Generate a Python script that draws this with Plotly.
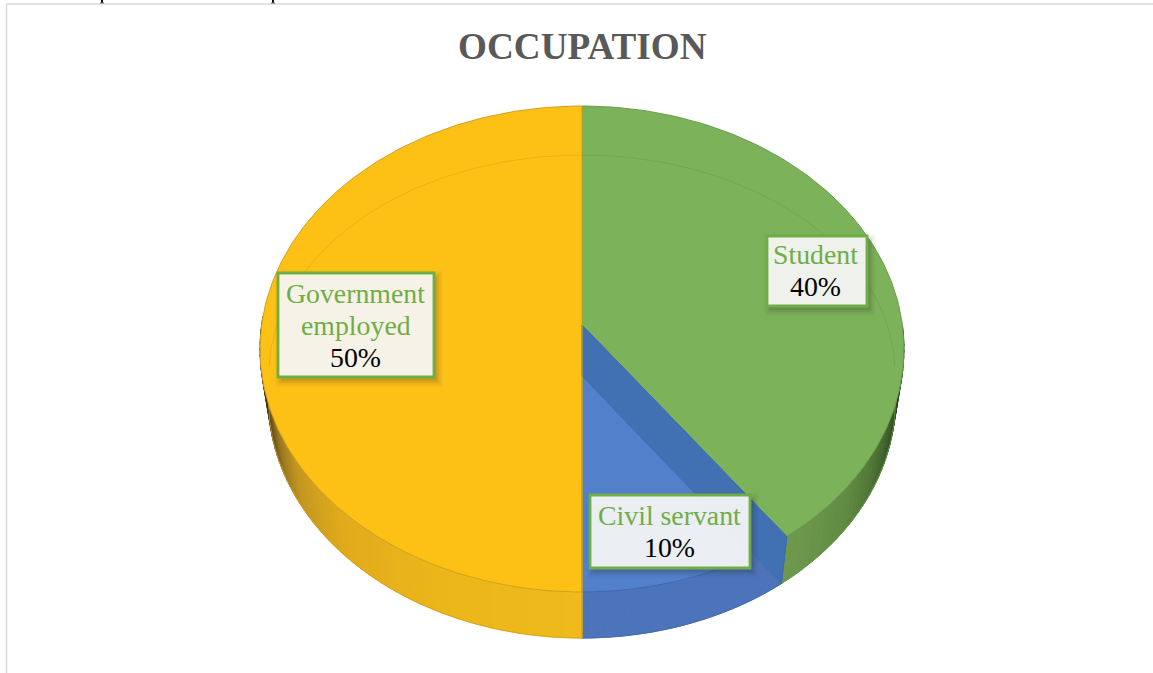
import math
import plotly.graph_objects as go

# ---- data ----
categories = ["Student", "Civil servant", "Government employed"]
values = [40, 10, 50]
label_lines = [["Student"], ["Civil servant"], ["Government", "employed"]]
percent_labels = ["40%", "10%", "50%"]
title_text = "OCCUPATION"

# ---- style ----
TOP_COLORS = ["#7CB25A", "#5280CB", "#FDC116"]
EDGE_COLORS = ["#6A9E4A", "#3F69AE", "#D0A01E"]
CUT_WALL = "#4171B3"
SERIF = "Liberation Serif"
GREEN = "#70AD47"
WALL_STOPS = [
    (90, "#1E2A17"), (103, "#263A1C"), (112, "#3F5C2B"), (120, "#507636"), (128, "#5F8A42"), (144, "#6F9A4E"),
    (144.01, "#4D74BB"), (180, "#4D74BB"),
    (180.01, "#EFBA1A"), (205, "#EBB61A"), (225, "#E0AA1B"), (238, "#C49620"), (246, "#9A7820"), (252, "#6C5518"), (260, "#3E3112"), (272, "#2E2410"),
]
# label box (left, top, right, bottom) in page pixels
BOXES = [(767, 236, 867, 306), (590, 495, 750, 568), (278, 273, 434, 377)]
# small offsets of the text inside each box (x, y) in pixels
TEXT_SHIFT = [(-1.5, -1), (-1, 0), (-0.5, 0)]
# stubs of the page text above the frame
STUB_X = [102, 273]

# ---- perspective projection of a circular disc ----
CX, C = 582, -0.0988


def top(theta):
    """theta: degrees clockwise from the far (top) point of the pie."""
    t = math.radians(theta)
    u, v = math.sin(t), -math.cos(t)
    w = 1 + C * v
    return CX + 320.4 * u / w, (208.5 * v + 325) / w


def bottom(theta):
    t = math.radians(theta)
    u, v = math.sin(t), -math.cos(t)
    w = 1 + C * v
    return CX + 312 * u / w, (199 * v + 376) / w


def frange(a, b, step=1.0):
    n = max(1, int(abs(b - a) / step))
    return [a + (b - a) * i / n for i in range(n + 1)]


def mix(c1, c2, f):
    p = [int(c1[i:i + 2], 16) for i in (1, 3, 5)]
    q = [int(c2[i:i + 2], 16) for i in (1, 3, 5)]
    return "rgb(%d,%d,%d)" % tuple(round(p[k] + (q[k] - p[k]) * f) for k in range(3))


def wall_color(theta):
    for (a, ca), (b, cb) in zip(WALL_STOPS, WALL_STOPS[1:]):
        if a <= theta <= b:
            return mix(ca, cb, (theta - a) / (b - a))
    return WALL_STOPS[-1][1]


total = sum(values)
starts, a = [], 0.0
for val in values:
    starts.append(a)
    a += val / total * 360
ends = starts[1:] + [360.0]

fig = go.Figure()


def poly(pts, fill, line=None, width=0.0, name=""):
    xs = [p[0] for p in pts] + [pts[0][0]]
    ys = [p[1] for p in pts] + [pts[0][1]]
    fig.add_trace(go.Scatter(x=xs, y=ys, mode="lines", fill="toself", fillcolor=fill,
                             line=dict(color=line or fill, width=width if line else 1.0),
                             hoverinfo="skip", showlegend=False, name=name))


# side wall, built from short strips so it can be shaded along the rim
for s, e, name in zip(starts, ends, categories):
    lo, hi = max(s, 90), min(e, 272)
    if lo >= hi:
        continue
    grid = frange(lo, hi, 1.5)
    for t1, t2 in zip(grid, grid[1:]):
        poly([top(t1), top(t2), bottom(t2), bottom(t1)], wall_color((t1 + t2) / 2), name=name)

# outline of the lower rim
for s, e, edge in zip(starts, ends, EDGE_COLORS):
    lo, hi = max(s, 96), min(e, 265)
    if lo < hi:
        pts = [bottom(t) for t in frange(lo, hi)]
        fig.add_trace(go.Scatter(x=[p[0] for p in pts], y=[p[1] for p in pts], mode="lines",
                                 line=dict(color=edge, width=0.8), hoverinfo="skip", showlegend=False))

# top face
apex = (CX, 325.0)
for s, e, col, edge, name in zip(starts, ends, TOP_COLORS, EDGE_COLORS, categories):
    pts = [apex] + [top(t) for t in frange(s, e)]
    poly(pts, col, line=edge, width=1.0, name=name)

# cut wall of the neighbouring slice, seen through the blue slice
boundary = ends[0]
poly([apex, top(boundary), bottom(boundary), (CX, 376.0)], CUT_WALL, name="cut wall")
poly([top(boundary), bottom(boundary)], GREEN, line="#3F69AE", width=0.8)
poly([apex, bottom(180)], "#D0A01E", line="#C9A032", width=1.2)

# faint bevel ring on the top face
ring = [(CX + 313 * math.sin(math.radians(t)), 373.5 - 218.5 * math.cos(math.radians(t))) for t in frange(-88, 88)]
fig.add_trace(go.Scatter(x=[p[0] for p in ring], y=[p[1] for p in ring], mode="lines",
                         line=dict(color="rgba(70,70,20,0.12)", width=1), hoverinfo="skip", showlegend=False))

shapes = []
# soft label shadows and boxes
for (l, t, r, b) in BOXES:
    for grow, alpha in ((7, 0.03), (5, 0.05), (3, 0.07), (1, 0.09)):
        shapes.append(dict(type="rect", xref="x", yref="y", x0=l + 4 - grow, x1=r + 2 + grow,
                           y0=t + 5 - grow, y1=b + 3 + grow,
                           fillcolor="rgba(30,30,30,%g)" % alpha, line=dict(width=0), layer="above"))
    shapes.append(dict(type="rect", xref="x", yref="y", x0=l, x1=r, y0=t, y1=b,
                       fillcolor="rgba(250,250,250,0.92)", line=dict(color=GREEN, width=2.8), layer="above"))

# page frame
shapes.append(dict(type="line", xref="x", yref="y", x0=6.5, x1=6.5, y0=4, y1=673, line=dict(color="#DADADA", width=1.5), layer="below"))
shapes.append(dict(type="line", xref="x", yref="y", x0=6, x1=1153, y0=4, y1=4, line=dict(color="#DADADA", width=1.5), layer="below"))
# stubs above the frame
for px in STUB_X:
    shapes.append(dict(type="line", xref="x", yref="y", x0=px, x1=px, y0=0, y1=3, line=dict(color="#111111", width=2), layer="above"))
    shapes.append(dict(type="line", xref="x", yref="y", x0=px - 2, x1=px + 2, y0=3, y1=3, line=dict(color="#666666", width=1), layer="above"))

annotations = []
LINE_H = 32
for box, lines, pct, (dx, dy) in zip(BOXES, label_lines, percent_labels, TEXT_SHIFT):
    l, t, r, b = box
    rows = [(txt, GREEN) for txt in lines] + [(pct, "#000000")]
    y0 = (t + b) / 2 - (len(rows) - 1) * LINE_H / 2 + dy
    for i, (txt, color) in enumerate(rows):
        annotations.append(dict(xref="x", yref="y", x=(l + r) / 2 + dx, y=y0 + i * LINE_H, text=txt, showarrow=False,
                                xanchor="center", yanchor="middle", font=dict(family=SERIF, size=27.8, color=color)))
# title
annotations.append(dict(xref="x", yref="y", x=582.5, y=46, text="<b>%s</b>" % title_text, showarrow=False,
                        xanchor="center", yanchor="middle", font=dict(family=SERIF, size=37.2, color="#595959")))

fig.update_layout(
    width=1153, height=673, margin=dict(l=0, r=0, t=0, b=0),
    paper_bgcolor="white", plot_bgcolor="white", showlegend=False,
    xaxis=dict(range=[0, 1153], visible=False, fixedrange=True),
    yaxis=dict(range=[673, 0], visible=False, fixedrange=True),
    shapes=shapes, annotations=annotations,
)

fig.write_html("out.html", config=dict(displayModeBar=False),
               post_script="document.body.style.margin='0';document.body.style.overflow='hidden';")
